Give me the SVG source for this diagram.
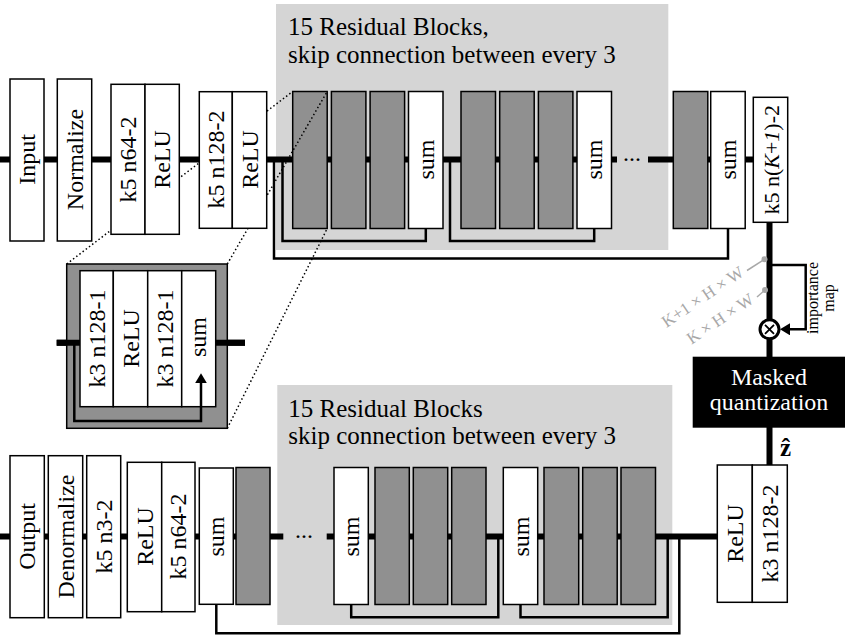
<svg xmlns="http://www.w3.org/2000/svg" width="847" height="642" viewBox="0 0 847 642">
<defs>
<style>
.box{fill:#fff;stroke:#000;stroke-width:1.5}
.dark{fill:#909090;stroke:#000;stroke-width:1.5}
.region{fill:#d5d5d5}
.main{stroke:#000;stroke-width:6;fill:none}
.skip{stroke:#000;stroke-width:2.5;fill:none;marker-end:url(#arr)}
.dotl{stroke:#000;stroke-width:1.5;stroke-dasharray:1.5 2.5;fill:none}
.t{font-family:"Liberation Serif","Times New Roman",serif;font-size:24px;text-anchor:middle;fill:#000}
.tl{font-family:"Liberation Serif","Times New Roman",serif;font-size:25px;fill:#000}
.g{font-family:"Liberation Serif","Times New Roman",serif;font-size:17px;fill:#a8a8a8;text-anchor:end}
</style>
<marker id="arr" markerUnits="userSpaceOnUse" markerWidth="12" markerHeight="12" refX="7" refY="6" orient="auto" viewBox="0 0 12 12"><path d="M0,0 L10,6 L0,12 z" fill="#000"/></marker>
</defs>

<rect width="847" height="642" fill="#fff"/>

<!-- gray regions -->
<g id="res-top-region">
<rect class="region" x="276" y="4" width="392.3" height="246"/>
<text class="tl" x="288" y="35">15 Residual Blocks,</text>
<text class="tl" x="288" y="63">skip connection between every 3</text>
</g>
<g id="res-bottom-region">
<rect class="region" x="277.3" y="385" width="395" height="240"/>
<text class="tl" x="288.3" y="416.7">15 Residual Blocks</text>
<text class="tl" x="288.3" y="443.5">skip connection between every 3</text>
</g>

<!-- connectors -->
<g id="connectors">
<path class="main" d="M0,159.5 H617 M648,159.5 H753.3"/>
<path class="main" d="M0,536.5 H283.3 M326.7,536.5 H717.3"/>
<path class="main" d="M769.5,222 V320 M769.5,339 V357 M769.5,427 V465"/>
<path class="main" d="M56.7,342.7 H80 M215.7,342.7 H245"/>
<path class="skip" d="M282.5,159.5 V241 H425.8 V195"/>
<path class="skip" d="M450,159.5 V241 H594.2 V196"/>
<path class="skip" d="M274,159.5 V258.5 H728 V196"/>
<path class="skip" d="M498.3,536.5 V617.3 H351.2 V569.7"/>
<path class="skip" d="M667.7,536.5 V617.3 H520.5 V569.7"/>
<path class="skip" d="M679.3,536.5 V633.3 H216.3 V576.3"/>
<path class="skip" d="M769.5,265 H805.7 V329.3 H783"/>
<text class="t" x="632" y="161">...</text>
<text class="t" x="304" y="538">...</text>
</g>

<!-- top residual blocks -->
<g id="rb-top-1"><rect class="dark" x="292.7" y="91.5" width="34.5" height="137"/></g>
<g id="rb-top-2"><rect class="dark" x="331.4" y="91.5" width="34.5" height="137"/></g>
<g id="rb-top-3"><rect class="dark" x="370.1" y="91.5" width="34.5" height="137"/></g>
<g id="sum-top-1"><rect class="box" x="408.5" y="91.5" width="34.5" height="137"/><text class="t" transform="translate(425.8,159.5) rotate(-90)" y="8">sum</text></g>
<g id="rb-top-4"><rect class="dark" x="461" y="91.5" width="34.5" height="137"/></g>
<g id="rb-top-5"><rect class="dark" x="499.7" y="91.5" width="34.5" height="137"/></g>
<g id="rb-top-6"><rect class="dark" x="538.4" y="91.5" width="34.5" height="137"/></g>
<g id="sum-top-2"><rect class="box" x="577" y="91.5" width="34.5" height="137"/><text class="t" transform="translate(594.2,159.5) rotate(-90)" y="8">sum</text></g>
<g id="rb-top-15"><rect class="dark" x="673.3" y="91.5" width="34.5" height="137"/></g>
<g id="sum-top-5"><rect class="box" x="710.7" y="91.5" width="34.5" height="137"/><text class="t" transform="translate(728,159.5) rotate(-90)" y="8">sum</text></g>

<!-- dotted zoom lines -->
<g id="zoom-lines">
<path class="dotl" d="M66.7,264 L292.7,91.5"/>
<path class="dotl" d="M227.3,264 L327.2,91.5"/>
<path class="dotl" d="M227.3,428.3 L327.2,228.5"/>
</g>

<!-- top encoder nodes -->
<g id="input"><rect class="box" x="10" y="79" width="34" height="162"/><text class="t" transform="translate(27,159.5) rotate(-90)" y="8">Input</text></g>
<g id="normalize"><rect class="box" x="57.3" y="79" width="34.4" height="162"/><text class="t" transform="translate(74.5,159.5) rotate(-90)" y="8">Normalize</text></g>
<g id="conv1">
<rect class="box" x="111" y="84.3" width="34" height="150"/>
<rect class="box" x="145" y="84.3" width="34.3" height="150"/>
<text class="t" transform="translate(128,159.5) rotate(-90)" y="8">k5 n64-2</text>
<text class="t" transform="translate(162.2,159.5) rotate(-90)" y="8">ReLU</text>
</g>
<g id="conv2">
<rect class="box" x="199.3" y="91.7" width="33" height="136.6"/>
<rect class="box" x="232.3" y="91.7" width="34.4" height="136.6"/>
<text class="t" transform="translate(215.8,159.5) rotate(-90)" y="8">k5 n128-2</text>
<text class="t" transform="translate(249.5,159.5) rotate(-90)" y="8">ReLU</text>
</g>
<g id="conv3">
<rect class="box" x="753.3" y="97.3" width="34.4" height="125"/>
<text class="t" style="font-size:22px" transform="translate(770.5,159.8) rotate(-90)" y="8">k5 n(<tspan font-style="italic">K</tspan>+<tspan font-style="italic">1</tspan>)-2</text>
</g>

<!-- inset: residual block detail -->
<g id="inset">
<rect x="66.7" y="264" width="160.6" height="164.3" fill="#909090" stroke="#000" stroke-width="1.5"/>
<rect class="box" x="80" y="270.7" width="33.3" height="136"/>
<rect class="box" x="113.3" y="270.7" width="34.4" height="136"/>
<rect class="box" x="147.7" y="270.7" width="34" height="136"/>
<rect class="box" x="181.7" y="270.7" width="34" height="136"/>
<text class="t" transform="translate(96.7,338.5) rotate(-90)" y="8">k3 n128-1</text>
<text class="t" transform="translate(130.5,338.5) rotate(-90)" y="8">ReLU</text>
<text class="t" transform="translate(164.7,338.5) rotate(-90)" y="8">k3 n128-1</text>
<text class="t" transform="translate(198.7,337) rotate(-90)" y="7">sum</text>
<path class="main" d="M56.7,342.7 H80 M215.7,342.7 H245"/>
<path class="skip" d="M74.3,342.7 V421 H201 V376.3"/>
</g>

<!-- importance map / masking -->
<g id="mask-op">
<circle cx="769.5" cy="329.3" r="9.5" fill="#fff" stroke="#000" stroke-width="3"/>
<path d="M765,324.8 L774,333.8 M774,324.8 L765,333.8" stroke="#000" stroke-width="1.8"/>
</g>
<g id="importance-label">
<text font-family="Liberation Serif, Times New Roman, serif" font-size="16" text-anchor="middle" transform="translate(818,298) rotate(-90)">importance</text>
<text font-family="Liberation Serif, Times New Roman, serif" font-size="16" text-anchor="middle" transform="translate(833.5,298) rotate(-90)">map</text>
</g>
<g id="shape-labels">
<line x1="747" y1="270.5" x2="764.5" y2="259.3" stroke="#a8a8a8" stroke-width="1.5"/>
<circle cx="764.5" cy="259.3" r="3" fill="#a8a8a8"/>
<text class="g" transform="translate(745,275) rotate(-34)">K+1 × H × W</text>
<line x1="757" y1="297" x2="765" y2="290" stroke="#a8a8a8" stroke-width="1.5"/>
<circle cx="765" cy="290" r="3" fill="#a8a8a8"/>
<text class="g" transform="translate(755,302) rotate(-34)">K × H × W</text>
</g>
<g id="masked-quantization">
<rect x="692.7" y="356.7" width="152.3" height="71" fill="#000"/>
<text class="t" x="769" y="385" style="fill:#fff">Masked</text>
<text class="t" x="769" y="410" style="fill:#fff">quantization</text>
</g>
<g id="zhat-label">
<text font-family="Liberation Serif, Times New Roman, serif" font-size="25" font-weight="bold" text-anchor="middle" x="785.5" y="456">ẑ</text>
</g>

<!-- bottom decoder nodes -->
<g id="deconv1">
<rect class="box" x="717.3" y="465" width="35" height="137.3"/>
<rect class="box" x="752.3" y="465" width="35" height="137.3"/>
<text class="t" transform="translate(734.8,533.5) rotate(-90)" y="8">ReLU</text>
<text class="t" transform="translate(769.8,533.5) rotate(-90)" y="8">k3 n128-2</text>
</g>
<g id="rb-bot-1"><rect class="dark" x="621" y="467.5" width="34.5" height="137"/></g>
<g id="rb-bot-2"><rect class="dark" x="582.7" y="467.5" width="34.5" height="137"/></g>
<g id="rb-bot-3"><rect class="dark" x="544" y="467.5" width="34.7" height="137"/></g>
<g id="sum-bot-1"><rect class="box" x="503.3" y="467.5" width="34.4" height="137"/><text class="t" transform="translate(520.5,536.5) rotate(-90)" y="8">sum</text></g>
<g id="rb-bot-4"><rect class="dark" x="451.7" y="467.5" width="34.3" height="137"/></g>
<g id="rb-bot-5"><rect class="dark" x="413.3" y="467.5" width="34.4" height="137"/></g>
<g id="rb-bot-6"><rect class="dark" x="375" y="467.5" width="34.3" height="137"/></g>
<g id="sum-bot-2"><rect class="box" x="334" y="467.5" width="34.3" height="137"/><text class="t" transform="translate(351.2,536.5) rotate(-90)" y="8">sum</text></g>
<g id="rb-bot-15"><rect class="dark" x="236" y="467.5" width="34" height="137"/></g>
<g id="sum-bot-5"><rect class="box" x="199.3" y="468" width="34" height="136.3"/><text class="t" transform="translate(216.3,536.5) rotate(-90)" y="8">sum</text></g>
<g id="deconv2">
<rect class="box" x="127.3" y="462.3" width="34.4" height="149.4"/>
<rect class="box" x="161.7" y="462.3" width="33.3" height="149.4"/>
<text class="t" transform="translate(144.5,536.5) rotate(-90)" y="8">ReLU</text>
<text class="t" transform="translate(178.3,536.5) rotate(-90)" y="8">k5 n64-2</text>
</g>
<g id="deconv3"><rect class="box" x="86.7" y="455.7" width="34" height="162"/><text class="t" transform="translate(103.7,536.5) rotate(-90)" y="8">k5 n3-2</text></g>
<g id="denormalize"><rect class="box" x="48.3" y="455.7" width="34.4" height="162"/><text class="t" transform="translate(65.5,536.5) rotate(-90)" y="8">Denormalize</text></g>
<g id="output"><rect class="box" x="10" y="455.7" width="34.3" height="162"/><text class="t" transform="translate(27.2,536.5) rotate(-90)" y="8">Output</text></g>
</svg>
